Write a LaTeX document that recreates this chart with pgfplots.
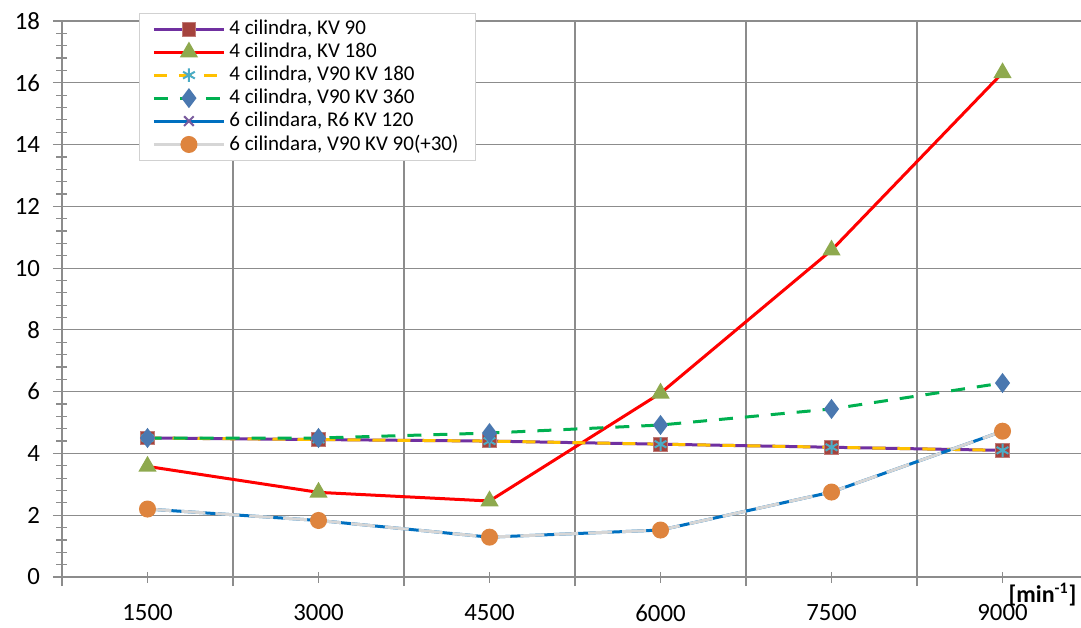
\documentclass[border=0pt]{standalone}
\usepackage{pgfplots}
\pgfplotsset{compat=1.18}
\usepackage{fontspec}
\setmainfont{Carlito}
\definecolor{gridc}{HTML}{8C8C8C}
\definecolor{cpurple}{HTML}{7030A0}
\definecolor{csq}{HTML}{A5433D}
\definecolor{cgreenm}{HTML}{8EA94E}
\definecolor{cyellow}{HTML}{FFC000}
\definecolor{cast}{HTML}{4BACC6}
\definecolor{cgreen}{HTML}{00B050}
\definecolor{cdiam}{HTML}{4A78B0}
\definecolor{cblue}{HTML}{0070C0}
\definecolor{cxm}{HTML}{7A5C9E}
\definecolor{cgray}{HTML}{D6D6D6}
\definecolor{corange}{HTML}{DE843E}
\begin{document}
\begin{tikzpicture}
\begin{axis}[
  name=ax,
  scale only axis,
  width=509.5pt, height=278pt,
  xmin=0.5, xmax=6.459, ymin=0, ymax=18,
  axis lines=left,
  axis line style={-, draw=gridc, line width=0.8pt},
  xtick={0.5,1.5,...,6.5},
  xticklabels={},
  xmajorgrids=true,
  extra x ticks={1,2,3,4,5,6},
  extra x tick labels={1500,3000,4500,6000,7500,9000},
  extra x tick style={grid=none, major tick length=5.5pt},
  ytick={0,2,...,18},
  minor y tick num=4,
  ymajorgrids=true,
  grid style={draw=gridc, line width=0.6pt},
  tick align=center,
  major tick length=9pt,
  minor tick length=5.5pt,
  tick style={draw=gridc, line width=0.6pt},
  tick label style={font=\fontsize{12.4}{14}\selectfont, text=black},
  xticklabel style={yshift=-7.5pt},
  yticklabel style={xshift=-3pt},
  /pgf/number format/assume math mode=true,
  legend style={at={(axis description cs:0.0756,1.0144)}, anchor=north west,
    draw=black!18, fill=white, font=\fontsize{10.5}{11}\selectfont,
    inner xsep=6.5pt, inner ysep=1.5pt, row sep=-1.3pt},
  legend cell align=left,
  legend image code/.code={\draw[mark repeat=2,mark phase=2] plot coordinates {(0pt,0pt) (17.5pt,0pt) (35pt,0pt)};},
  clip=false,
]
\addplot[cpurple, line width=1.5pt, mark=square*, mark size=3.4pt,
  mark options={solid, fill=csq, draw=csq!70!white, line width=0.4pt}]
  coordinates {(1,4.5) (2,4.45) (3,4.4) (4,4.3) (5,4.2) (6,4.1)};
\addlegendentry{4 cilindra, KV 90}
\addplot[red, line width=1.5pt, mark=triangle*, mark size=3.8pt,
  mark options={solid, fill=cgreenm, draw=cgreenm}]
  coordinates {(1,3.58) (2,2.74) (3,2.46) (4,5.95) (5,10.58) (6,16.32)};
\addlegendentry{4 cilindra, KV 180}
\addplot[cyellow, line width=1.5pt, dash pattern=on 6.5pt off 6pt, mark=asterisk, mark size=3.4pt,
  mark options={solid, draw=cast, line width=1pt}]
  coordinates {(1,4.5) (2,4.45) (3,4.4) (4,4.3) (5,4.2) (6,4.1)};
\addlegendentry{4 cilindra, V90 KV 180}
\addplot[cgreen, line width=1.5pt, dash pattern=on 7pt off 6pt, mark=diamond*, mark size=3.8pt,
  mark options={solid, fill=cdiam, draw=cdiam}]
  coordinates {(1,4.5) (2,4.5) (3,4.66) (4,4.92) (5,5.44) (6,6.28)};
\addlegendentry{4 cilindra, V90 KV 360}
\addplot[cblue, line width=1.5pt, mark=x, mark size=3.4pt,
  mark options={solid, draw=cxm, line width=1pt}]
  coordinates {(1,2.2) (2,1.83) (3,1.29) (4,1.52) (5,2.75) (6,4.72)};
\addlegendentry{6 cilindara, R6 KV 120}
\addplot[cgray, line width=1.5pt, dash pattern=on 12pt off 5pt, mark=*, mark size=3.5pt,
  mark options={solid, fill=corange, draw=corange}, forget plot]
  coordinates {(1,2.2) (2,1.83) (3,1.29) (4,1.52) (5,2.75) (6,4.72)};
\addlegendimage{cgray, line width=1.5pt, mark=*, mark size=3.5pt,
  mark options={solid, fill=corange, draw=corange}}
\addlegendentry{6 cilindara, V90 KV 90(+30)}
\node[anchor=east, font=\bfseries\fontsize{12}{14}\selectfont, inner sep=0pt] at (axis description cs:0.996,-0.032) {[min\textsuperscript{-1}]};
\end{axis}
\pgfresetboundingbox
\path[use as bounding box] ([xshift=-31pt,yshift=-25pt]ax.south west) rectangle ([yshift=10.5pt]ax.north east);
\end{tikzpicture}
\end{document}
